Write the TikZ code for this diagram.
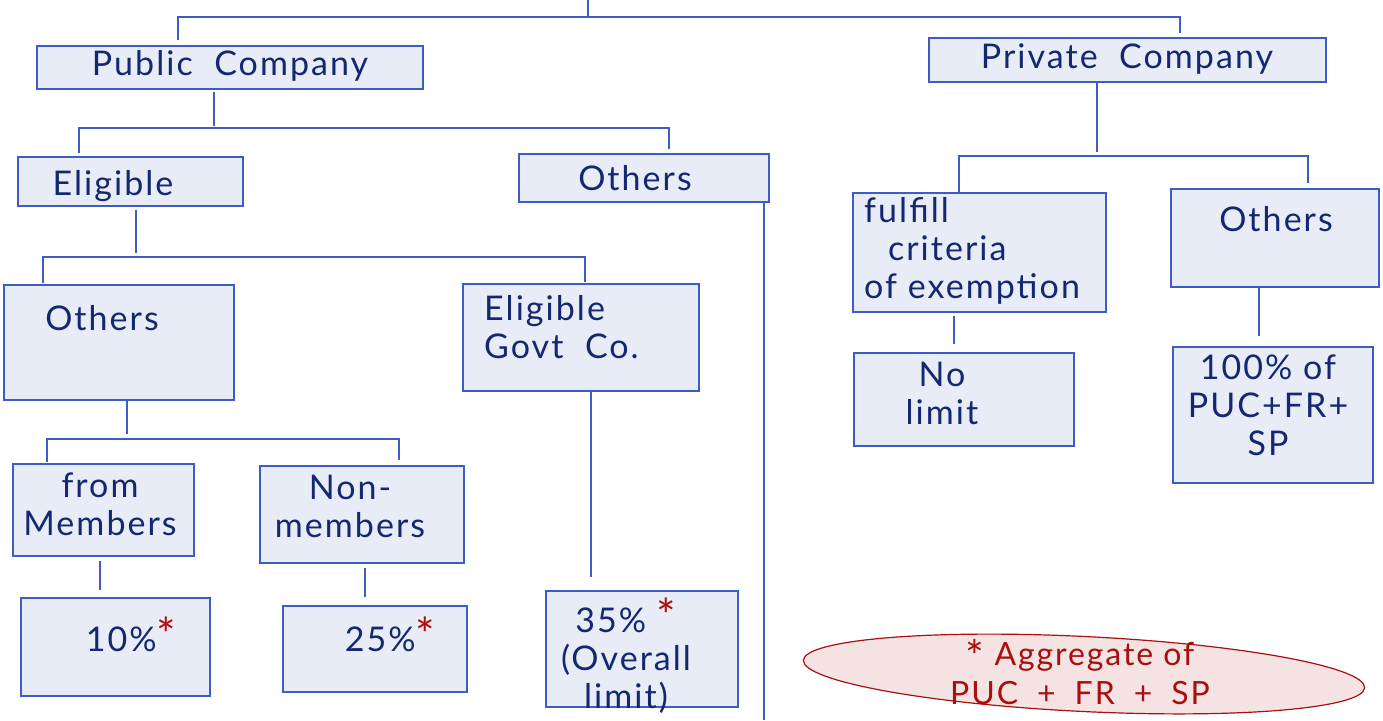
\documentclass[tikz,border=0pt]{standalone}
\usepackage{fontspec}
\setmainfont{Lato}[LetterSpace=6]
\usetikzlibrary{shapes.geometric}

\definecolor{boxfill}{HTML}{E8ECF7}
\definecolor{boxline}{HTML}{3D5CC8}
\definecolor{ink}{HTML}{142770}
\definecolor{starred}{HTML}{B00C0C}
\definecolor{notefill}{HTML}{F5E3E3}
\definecolor{noteline}{HTML}{A81010}

\newcommand{\redstar}{{\color{starred}\fontsize{46}{46}\selectfont *}}
\newcommand{\notestar}{\raisebox{-7pt}{\fontsize{44}{44}\selectfont *}}

\begin{document}
\begin{tikzpicture}[x=1pt, y=-1pt,
    box/.style={draw=boxline, fill=boxfill, line width=1.5pt, inner sep=0pt},
    link/.style={draw=boxline, line width=1.4pt},
    hand/.style={text=ink, inner sep=0pt, align=center, font=\fontsize{34}{38}\selectfont},
    note/.style={ellipse, draw=noteline, fill=notefill, line width=1.2pt, inner sep=0pt},
    notetext/.style={text=noteline, inner sep=0pt, align=center, font=\fontsize{32}{40}\selectfont}]

    \useasboundingbox (0,0) rectangle (1383,720);

    % Boxes of the public side
    \node[box, minimum width=386, minimum height=43] (pub) at (230,67.5) {};
    \node[box, minimum width=225, minimum height=49] (elig) at (130.5,181.5) {};
    \node[box, minimum width=250, minimum height=48] (othA) at (644,178) {};
    \node[box, minimum width=230, minimum height=115] (othB) at (119,342.5) {};
    \node[box, minimum width=236, minimum height=107] (govt) at (581,337.5) {};
    \node[box, minimum width=181, minimum height=92] (memb) at (103.5,510) {};
    \node[box, minimum width=204, minimum height=97] (nonm) at (362,514.5) {};
    \node[box, minimum width=189, minimum height=98] (ten) at (115.5,647) {};
    \node[box, minimum width=184, minimum height=86] (tfive) at (375,649) {};
    \node[box, minimum width=192, minimum height=116] (thfive) at (642,649) {};

    % Boxes of the private side
    \node[box, minimum width=397, minimum height=44] (priv) at (1127.5,60) {};
    \node[box, minimum width=253, minimum height=119] (fulf) at (979.5,252.5) {};
    \node[box, minimum width=208, minimum height=98] (othC) at (1275,238) {};
    \node[box, minimum width=220, minimum height=93] (nolim) at (964,399.5) {};
    \node[box, minimum width=200, minimum height=136] (hund) at (1273,415) {};

    % Texts
    \node[hand, anchor=north] (pubT) at (230,50) {Public\ \ Company};
    \node[hand, anchor=north] (privT) at (1127,43) {Private\ \ Company};
    \node[hand, anchor=north] (eligT) at (113,170) {Eligible};
    \node[hand, anchor=north] (othAT) at (635,165) {Others};
    \node[hand, anchor=north] (othBT) at (102,305) {Others};
    \node[hand, anchor=north west, align=left] (govtT) at (484,295) {Eligible\\Govt\ \ Co.};
    \node[hand, anchor=north] (membT) at (100,473) {from\\Members};
    \node[hand, anchor=north] (nonmT) at (350,475) {Non-\\members};
    \node[hand, anchor=north] (tenT) at (131,617) {10\%\redstar};
    \node[hand, anchor=north] (tfiveT) at (390,617) {25\%\redstar};
    \node[hand, anchor=north] (thfiveT) at (626,598) {35\% \redstar\\(Overall\\limit)};
    \node[hand, anchor=north west, align=left] (fulfT) at (864,197) {fulfill\\\hspace*{0.7em}criteria\\of exemption};
    \node[hand, anchor=north] (othCT) at (1276,206) {Others};
    \node[hand, anchor=north] (nolimT) at (942,362) {No\\limit};
    \node[hand, anchor=north] (hundT) at (1268,355) {100\% of\\PUC+FR+\\SP};

    % Note on the aggregate
    \node[note, minimum width=562, minimum height=75, rotate=-2.8] (agg) at (1084,674) {};
    \node[notetext] (aggT) at (1080,672) {\notestar\ Aggregate of\\[-1pt]PUC \;+\; FR \;+\; SP};

    % Junctions of the bars
    \coordinate (root) at (588,0);
    \coordinate (topL) at (178,17);
    \coordinate (topR) at (1180,17);
    \coordinate (pubbar) at (214,128);
    \coordinate (pubL) at (79,128);
    \coordinate (pubR) at (669,128);
    \coordinate (eligbar) at (136,257);
    \coordinate (eligL) at (43,257);
    \coordinate (eligR) at (585,257);
    \coordinate (othbar) at (127,439);
    \coordinate (othL) at (47,439);
    \coordinate (othR) at (399,439);
    \coordinate (privbar) at (1097,156);
    \coordinate (privL) at (959,156);
    \coordinate (privR) at (1308,156);
    \coordinate (othAend) at (764,720);

    % Connectors
    \draw[link] (root) -- (root |- topL);
    \draw[link, shorten <=5pt, shorten >=4pt] (pub.north -| topL) |- (topR) -- (priv.north -| topR);

    \draw[link, shorten <=2pt, shorten >=2pt] (pub.south -| pubbar) -- (pubbar);
    \draw[link, shorten <=3pt, shorten >=4pt] (elig.north -| pubL) |- (pubR) -- (othA.north -| pubR);

    \draw[link, shorten <=3pt, shorten >=4pt] (elig.south -| eligbar) -- (eligbar);
    \draw[link, shorten <=1pt, shorten >=1pt] (othB.north -| eligL) |- (eligR) -- (govt.north -| eligR);

    \draw[link, shorten >=5pt] (othB.south -| othbar) -- (othbar);
    \draw[link, shorten <=1pt, shorten >=5pt] (memb.north -| othL) |- (othR) -- (nonm.north -| othR);

    \draw[link, shorten <=4pt, shorten >=7pt] ([xshift=-3.5pt]memb.south) -- ([xshift=-15.5pt]ten.north);
    \draw[link, shorten <=4pt, shorten >=8pt] ([xshift=3pt]nonm.south) -- ([xshift=-10pt]tfive.north);
    \draw[link, shorten >=13pt] ([xshift=10pt]govt.south) -- ([xshift=-51pt]thfive.north);
    \draw[link] ([xshift=120pt]othA.south) -- (othAend);

    \draw[link, shorten >=4pt] (priv.south -| privbar) -- (privbar);
    \draw[link, shorten >=5pt] (fulf.north -| privL) |- (privR) -- (othC.north -| privR);

    \draw[link, shorten <=3pt, shorten >=8pt] ([xshift=-25.5pt]fulf.south) -- ([xshift=-10pt]nolim.north);
    \draw[link, shorten >=10pt] ([xshift=-16pt]othC.south) -- ([xshift=-14pt]hund.north);

\end{tikzpicture}
\end{document}
